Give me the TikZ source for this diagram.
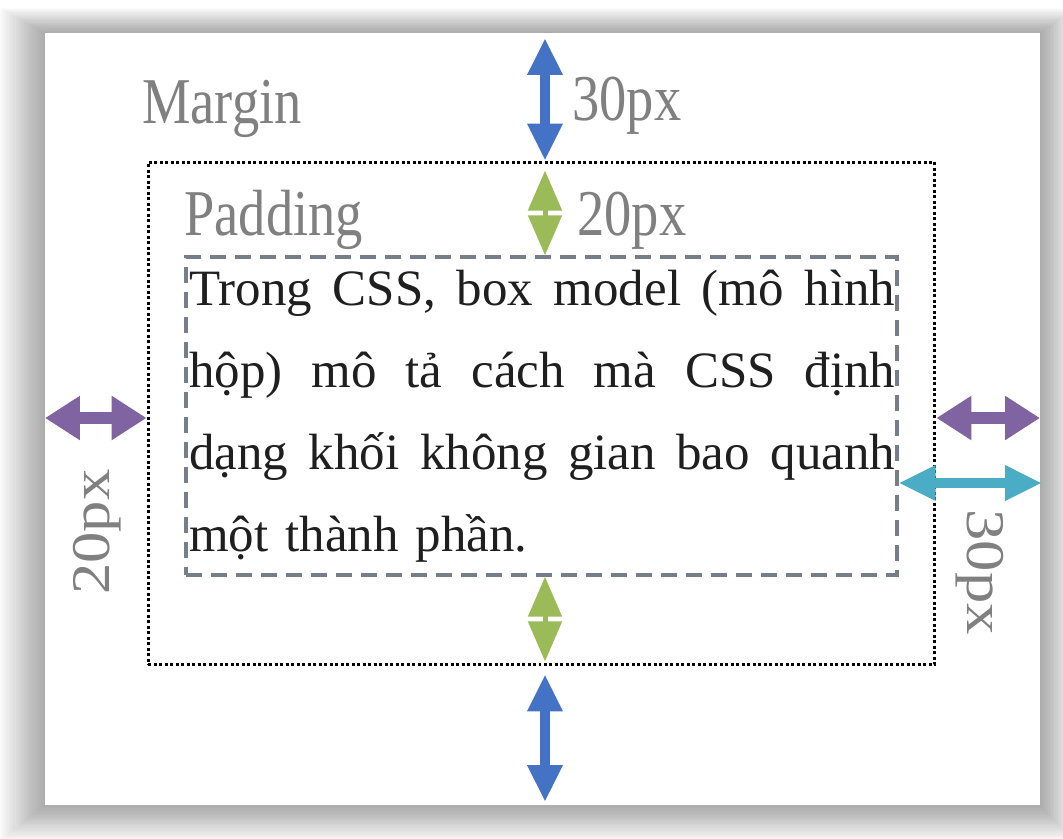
\documentclass[tikz,border=0pt]{standalone}
\usepackage{fontspec}
\setmainfont{Liberation Serif}
\usepackage{graphicx}
\usetikzlibrary{arrows.meta}
\definecolor{mblue}{RGB}{68,114,196}
\definecolor{pgreen}{RGB}{155,187,89}
\definecolor{bpurple}{RGB}{128,100,162}
\definecolor{ccyan}{RGB}{75,172,198}
\definecolor{lblgray}{RGB}{128,128,128}
\definecolor{padline}{RGB}{118,126,138}
\newcommand*\tall[1]{\scalebox{1}[1.2]{#1}}
\newcommand*\wide[1]{\scalebox{1.15}[1]{#1}}
\newcommand*\fullline[1]{\leavevmode\hbox to 14.12cm{\spaceskip=0.25em plus 1fil\relax #1}}

\begin{document}
\begin{tikzpicture}[x=0.02cm,y=-0.02cm,
  lbl/.style={text=lblgray,font=\fontsize{31}{31}\selectfont,inner sep=0pt},
  dim/.style={<->,line width=0.2cm,>={Triangle[length=0.74cm,width=0.66cm]}},
  wdim/.style={<->,line width=0.24cm,>={Triangle[length=0.7cm,width=0.84cm]}},
  pdim/.style={<->,line width=0.1cm,>={Triangle[length=0.8cm,width=0.66cm]}}]
\useasboundingbox (0,0) rectangle (1063,839);
\fill[white] (0,0) rectangle (1063,839);
% shadow round the card
\foreach \i in {1,...,22}
  \fill[black,opacity=0.016] (45-2.1*\i,33-1.15*\i) rectangle (1040+1.6*\i,805+1.7*\i);
\fill[white] (45,33) rectangle (1040,805);

\node[draw=black,line width=0.06cm,dash pattern=on 0.06cm off 0.05cm,minimum width=15.74cm,minimum height=10.06cm,inner sep=0] (border) at (541.5,413.5) {};
\node[draw=padline,line width=0.07cm,dash pattern=on 0.32cm off 0.18cm,minimum width=14.22cm,minimum height=6.36cm,inner sep=0] (content) at (541.5,416) {};
\node[anchor=base west,text width=14.12cm,align=left,inner sep=0,text=black!88,font=\fontsize{29}{46.7}\selectfont] (para) at (189,305)
  {\fullline{Trong CSS, box model (mô hình}\\
   \fullline{hộp) mô tả cách mà CSS định}\\
   \fullline{dạng khối không gian bao quanh}\\
   một thành phần.};

\node[lbl,anchor=base west] (margin) at (142,123) {\tall{Margin}};
\node[lbl,anchor=base west] (padding) at (184,235) {\tall{Padding}};
\node[lbl,anchor=base west] (mval) at (572,120) {\tall{30px}};
\node[lbl,anchor=base west] (pval) at (577,235) {\tall{20px}};
\node[lbl,rotate=90] (lval) at (97,532) {\wide{20px}};
\node[lbl,rotate=-90] (rval) at (980,572) {\wide{30px}};

\coordinate (cardN) at (545,38);
\coordinate (cardS) at (545,802);
\coordinate (cardW) at (45,418);
\coordinate (cardE) at (1040,418);
\coordinate (cardE2) at (1042,483);

\draw[dim,mblue] (cardN) -- (cardN |- border.north);
\draw[pdim,pgreen,shorten <=0.2cm] (cardN |- border.north) -- (cardN |- content.north);
\draw[pdim,pgreen,shorten >=0.1cm] (cardN |- content.south) -- (cardN |- border.south);
\draw[dim,mblue,shorten <=0.16cm] (cardN |- border.south) -- (cardS);
\draw[wdim,bpurple] (cardW) -- (border.west |- cardW);
\draw[wdim,bpurple] (border.east |- cardE) -- (cardE);
\draw[dim,ccyan] (content.east |- cardE2) -- (cardE2);
\end{tikzpicture}
\end{document}
